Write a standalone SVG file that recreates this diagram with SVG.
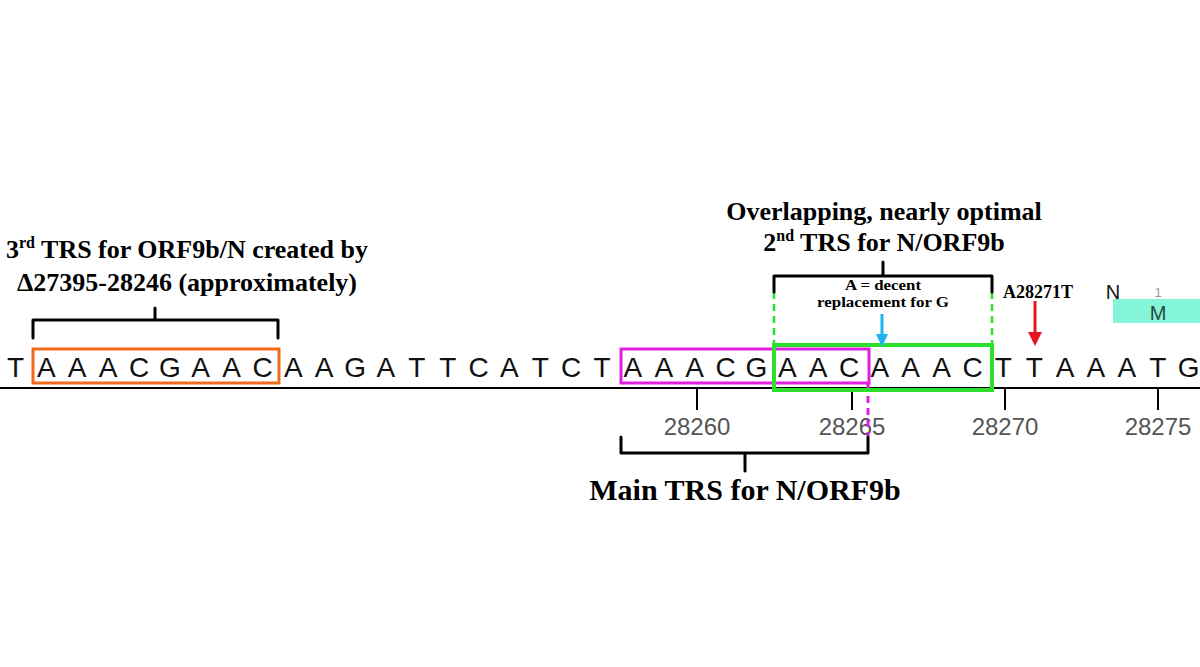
<svg xmlns="http://www.w3.org/2000/svg" width="1200" height="667" viewBox="0 0 1200 667">
<style>
.seq{font-family:"Liberation Sans",Arial,sans-serif;font-size:28px;fill:#111;text-anchor:middle}
.num{font-family:"Liberation Sans",Arial,sans-serif;font-size:24px;fill:#555;text-anchor:middle}
.lbl{font-family:"Liberation Serif","Times New Roman",serif;font-weight:bold;fill:#000;text-anchor:middle}
.brk{fill:none;stroke:#000;stroke-width:3;stroke-linejoin:round;stroke-linecap:round}
.tick{stroke:#000;stroke-width:2}
</style>
<rect width="1200" height="667" fill="#fff"/>

<g id="axis">
<line x1="0" y1="388" x2="1200" y2="388" stroke="#000" stroke-width="2"/>
<line class="tick" x1="697" y1="388" x2="697" y2="410"/>
<line class="tick" x1="852" y1="388" x2="852" y2="410"/>
<line class="tick" x1="1005" y1="388" x2="1005" y2="410"/>
<line class="tick" x1="1158" y1="388" x2="1158" y2="410"/>
<text class="num" x="697" y="435">28260</text>
<text class="num" x="852" y="435">28265</text>
<text class="num" x="1005" y="435">28270</text>
<text class="num" x="1158" y="435">28275</text>
</g>

<g id="sequence">
<text class="seq" y="377" x="15.5 46.4 77.2 108.1 139.0 169.9 200.7 231.6 262.5 293.3 324.2 355.1 385.9 416.8 447.7 478.6 509.4 540.3 571.2 602.0 632.9 663.8 694.6 725.5 756.4 787.3 818.1 849.0 879.9 910.7 941.6 972.5 1003.3 1034.2 1065.1 1095.9 1126.8 1157.7 1188.6">TAAACGAACAAGATTCATCTAAACGAACAAACTTAAATG</text>
</g>

<g id="third-trs">
<rect x="33" y="349" width="246" height="34" fill="none" stroke="#f26a1b" stroke-width="3"/>
<path class="brk" d="M33,338 V320 H278 V338 M155,320 V308"/>
<text class="lbl" font-size="26" x="187" y="258"><tspan>3</tspan><tspan font-size="16" dy="-10">rd</tspan><tspan dy="10"> TRS for ORF9b/N created by</tspan></text>
<text class="lbl" font-size="26" x="187" y="291">Δ27395-28246 (approximately)</text>
</g>

<g id="main-trs">
<rect x="621" y="349" width="248" height="34" fill="none" stroke="#e21ee2" stroke-width="3"/>
<line x1="868" y1="384" x2="868" y2="436" stroke="#e21ee2" stroke-width="3" stroke-dasharray="7,5"/>
<path class="brk" d="M621,437 V453 H868 V437 M745,453 V471"/>
<text class="lbl" font-size="30" x="745" y="500">Main TRS for N/ORF9b</text>
</g>

<g id="second-trs">
<rect x="774" y="345" width="218" height="45" fill="none" stroke="#2ee02e" stroke-width="4"/>
<line x1="774" y1="292" x2="774" y2="344" stroke="#2ee02e" stroke-width="2.5" stroke-dasharray="7,5"/>
<line x1="992" y1="292" x2="992" y2="344" stroke="#2ee02e" stroke-width="2.5" stroke-dasharray="7,5"/>
<path class="brk" d="M774,292 V276 H992 V292 M883,276 V262"/>
<text class="lbl" font-size="26" x="884" y="220">Overlapping, nearly optimal</text>
<text class="lbl" font-size="26" x="884" y="251"><tspan>2</tspan><tspan font-size="16" dy="-10">nd</tspan><tspan dy="10"> TRS for N/ORF9b</tspan></text>
</g>

<g id="a-replacement">
<text class="lbl" font-size="14.5" x="883" y="290" textLength="76" lengthAdjust="spacingAndGlyphs">A = decent</text>
<text class="lbl" font-size="14.5" x="883" y="307" textLength="132" lengthAdjust="spacingAndGlyphs">replacement for G</text>
<line x1="882" y1="314" x2="882" y2="335" stroke="#1eb4f0" stroke-width="3"/>
<polygon points="876,334 888,334 882,347" fill="#1eb4f0"/>
</g>

<g id="a28271t">
<text class="lbl" font-size="18" x="1038" y="298">A28271T</text>
<line x1="1035" y1="301" x2="1035" y2="333" stroke="#e8141e" stroke-width="3"/>
<polygon points="1028,332 1042,332 1035,346" fill="#e8141e"/>
</g>

<g id="genes">
<text x="1113" y="299" font-family="'Liberation Sans',Arial,sans-serif" font-size="20" fill="#111" text-anchor="middle">N</text>
<text x="1158" y="297" font-family="'Liberation Sans',Arial,sans-serif" font-size="13" fill="#999" text-anchor="middle">1</text>
<rect x="1113" y="299" width="87" height="24" fill="#84f5d6"/>
<text x="1158" y="320" font-family="'Liberation Sans',Arial,sans-serif" font-size="20" fill="#2a4a40" text-anchor="middle">M</text>
</g>
</svg>
